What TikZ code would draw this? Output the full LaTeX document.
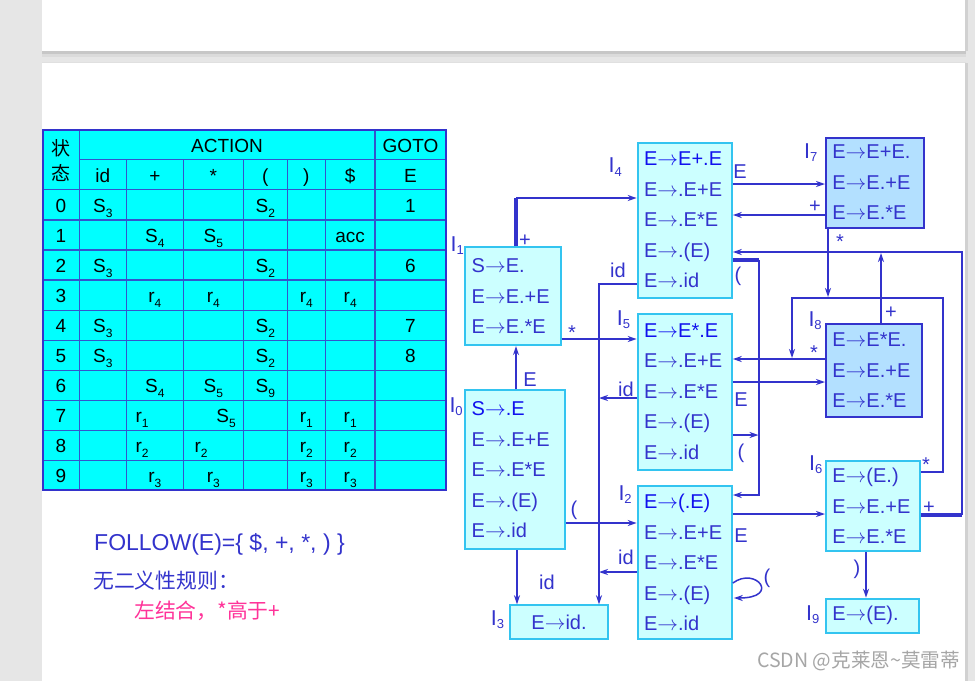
\documentclass[tikz,border=0pt]{standalone}
\usepackage{fontspec}
\setmainfont{Liberation Sans}
\newfontfamily\cjk{Noto Sans CJK SC}
\usetikzlibrary{arrows.meta}
\definecolor{kb}{HTML}{3333CC}
\definecolor{kbb}{HTML}{1111EE}
\definecolor{boxc}{HTML}{33C4F0}
\definecolor{boxf}{HTML}{CCFFFF}
\definecolor{boxfb}{HTML}{B3E0FF}
\definecolor{tcyan}{HTML}{00FFFF}
\definecolor{tline}{HTML}{3355CC}
\definecolor{mypink}{HTML}{FF3399}
\definecolor{pagebg}{HTML}{E6E6E6}
\newcommand\ar{\ensuremath{\rightarrow}}
\newcommand\sbs[1]{\raisebox{-3.5pt}{\fontsize{13}{13}\selectfont #1}}
\newcommand\tsb[1]{\raisebox{-5pt}{\fontsize{12}{12}\selectfont #1}}
\newcommand\tc[4]{\node[tcell] (#1) at (#2,#3) {#4};}
\tikzset{
  st/.style={draw=boxc, fill=boxf, line width=1.8pt, inner xsep=6.5pt, inner ysep=0pt,
    anchor=north west, align=left, text=kb, font=\fontsize{20}{30.5}\selectfont},
  stk/.style={st, draw=kb, fill=boxfb},
  arr/.style={draw=kb, line width=1.5pt, -{Stealth[length=9pt,width=6pt]}},
  thk/.style={draw=kb, line width=3.2pt},
  lab/.style={text=kb, font=\fontsize{20}{24}\selectfont, anchor=base, inner sep=0pt},
  slab/.style={text=kb, font=\fontsize{21.5}{24}\selectfont, anchor=base west, inner sep=0pt},
  tcell/.style={anchor=base, inner sep=0pt, font=\fontsize{19}{22}\selectfont, text=black},
}
\begin{document}
\begin{tikzpicture}[x=1pt,y=-1pt]
\useasboundingbox (0,0) rectangle (975,681);
% page and slides
\fill[pagebg] (0,0) rectangle (975,681);
\fill[black!22] (42,51) rectangle (966,53.5);
\fill[black!14] (42,53.5) rectangle (966,56.5);
\fill[black!18] (965,0) rectangle (967.5,51);
\fill[white] (42,0) rectangle (965,51);
\fill[black!12] (41.5,62) rectangle (966,681);
\fill[black!18] (965,63) rectangle (968,681);
\fill[white] (42,63) rectangle (965,681);

% ---------- table ----------
\fill[tcyan] (42.7,129.7) rectangle (446,490.3);
\begin{scope}[draw=tline, line width=1.1pt]
\foreach \yy in {189.3,220,250,280,310.3,340.3,370.3,400.3,430.3,460.3}
  \draw (42.7,\yy) -- (446,\yy);
\draw (79.3,159.3) -- (446,159.3);
\foreach \xx in {79.3,375}
  \draw (\xx,129.7) -- (\xx,490.3);
\foreach \xx in {126.3,183.3,243.3,287.3,325.3}
  \draw (\xx,159.3) -- (\xx,490.3);
\end{scope}
\draw[kb, line width=2pt] (42.7,129.7) rectangle (446,490.3);

\node[tcell, anchor=center, font=\cjk\fontsize{19}{22}\selectfont] (hz1) at (61,148.5) {状};
\node[tcell, anchor=center, font=\cjk\fontsize{19}{22}\selectfont] (hz2) at (61,173.5) {态};
\tc{hact}{227}{152.3}{ACTION}
\tc{hgoto}{410.5}{152.3}{GOTO}
\tc{hid}{102.8}{182.3}{id}
\tc{hpl}{154.8}{182.3}{+}
\tc{has}{213.3}{182.3}{*}
\tc{hlp}{265.3}{182.3}{(}
\tc{hrp}{306.3}{182.3}{)}
\tc{hdl}{350.2}{182.3}{\$}
\tc{hE}{410.5}{182.3}{E}
% state numbers
\foreach \n/\yy in {0/212.3,1/242.3,2/272.3,3/302.3,4/332.3,5/362.3,6/392.3,7/422.3,8/452.3,9/482.3}
  \node[tcell] (n\n) at (61,\yy) {\n};
% row 0
\tc{a0id}{102.8}{212.3}{S\tsb{3}}
\tc{a0lp}{265.3}{212.3}{S\tsb{2}}
\tc{a0g}{410.5}{212.3}{1}
% row 1
\tc{a1pl}{154.8}{242.3}{S\tsb{4}}
\tc{a1as}{213.3}{242.3}{S\tsb{5}}
\tc{a1dl}{350.2}{242.3}{acc}
% row 2
\tc{a2id}{102.8}{272.3}{S\tsb{3}}
\tc{a2lp}{265.3}{272.3}{S\tsb{2}}
\tc{a2g}{410.5}{272.3}{6}
% row 3
\tc{a3pl}{154.8}{302.3}{r\tsb{4}}
\tc{a3as}{213.3}{302.3}{r\tsb{4}}
\tc{a3rp}{306.3}{302.3}{r\tsb{4}}
\tc{a3dl}{350.2}{302.3}{r\tsb{4}}
% row 4
\tc{a4id}{102.8}{332.3}{S\tsb{3}}
\tc{a4lp}{265.3}{332.3}{S\tsb{2}}
\tc{a4g}{410.5}{332.3}{7}
% row 5
\tc{a5id}{102.8}{362.3}{S\tsb{3}}
\tc{a5lp}{265.3}{362.3}{S\tsb{2}}
\tc{a5g}{410.5}{362.3}{8}
% row 6
\tc{a6pl}{154.8}{392.3}{S\tsb{4}}
\tc{a6as}{213.3}{392.3}{S\tsb{5}}
\tc{a6lp}{265.3}{392.3}{S\tsb{9}}
% row 7
\tc{a7pl}{142}{422.3}{r\tsb{1}}
\tc{a7as}{226}{422.3}{S\tsb{5}}
\tc{a7rp}{306.3}{422.3}{r\tsb{1}}
\tc{a7dl}{350.2}{422.3}{r\tsb{1}}
% row 8
\tc{a8pl}{142}{452.3}{r\tsb{2}}
\tc{a8as}{201}{452.3}{r\tsb{2}}
\tc{a8rp}{306.3}{452.3}{r\tsb{2}}
\tc{a8dl}{350.2}{452.3}{r\tsb{2}}
% row 9
\tc{a9pl}{154.8}{482.3}{r\tsb{3}}
\tc{a9as}{213.3}{482.3}{r\tsb{3}}
\tc{a9rp}{306.3}{482.3}{r\tsb{3}}
\tc{a9dl}{350.2}{482.3}{r\tsb{3}}

% ---------- notes ----------
\node[anchor=base west, inner sep=0pt, text=kb, font=\fontsize{23}{26}\selectfont] (fol) at (94,550) {FOLLOW(E)=\{ \$, +, *, ) \}};
\node[anchor=west, inner sep=0pt, text=kb, font=\cjk\fontsize{20.8}{24}\selectfont] (amb) at (93,581) {无二义性规则：};
\node[anchor=west, inner sep=0pt, text=mypink, font=\cjk\fontsize{20.8}{24}\selectfont] (rule) at (134,611) {左结合，*高于+};
\node[anchor=west, inner sep=0pt, text=black!35, font=\cjk\fontsize{19.6}{22}\selectfont] (wm) at (757,661) {CSDN @克莱恩\textasciitilde 莫雷蒂};

% ---------- states ----------
\node[st, minimum width=99.7, minimum height=159, text width=86.7] (I0) at (464.3,389.3)
  {\textcolor{kbb}{S\ar.E}\\E\ar.E+E\\E\ar.E*E\\E\ar.(E)\\E\ar.id};
\node[st, minimum width=95.7, minimum height=98.3, text width=82.7] (I1) at (464.3,246)
  {S\ar E.\\E\ar E.+E\\E\ar E.*E};
\node[st, minimum width=94.3, minimum height=153, text width=81.3] (I2) at (636.7,485.3)
  {\textcolor{kbb}{E\ar(.E)}\\E\ar.E+E\\E\ar.E*E\\E\ar.(E)\\E\ar.id};
\node[st, minimum width=98.3, minimum height=34, text width=85.3, align=center] (I3) at (509,604.3)
  {E\ar id.};
\node[st, minimum width=94.3, minimum height=155, text width=81.3] (I4) at (636.7,141.7)
  {\textcolor{kbb}{E\ar E+.E}\\E\ar.E+E\\E\ar.E*E\\E\ar.(E)\\E\ar.id};
\node[st, minimum width=94.3, minimum height=156, text width=81.3] (I5) at (636.7,312.7)
  {\textcolor{kbb}{E\ar E*.E}\\E\ar.E+E\\E\ar.E*E\\E\ar.(E)\\E\ar.id};
\node[st, minimum width=94, minimum height=90, text width=81] (I6) at (825,460)
  {E\ar(E.)\\E\ar E.+E\\E\ar E.*E};
\node[stk, minimum width=98.3, minimum height=90, text width=85.3] (I7) at (825,136.7)
  {E\ar E+E.\\E\ar E.+E\\E\ar E.*E};
\node[stk, minimum width=95.7, minimum height=92.4, text width=82.7] (I8) at (825,323.3)
  {E\ar E*E.\\E\ar E.+E\\E\ar E.*E};
\node[st, minimum width=92.7, minimum height=34, text width=79.7] (I9) at (825,597.7)
  {E\ar(E).};

% state labels
\node[slab] (L0) at (449.3,412) {I\sbs{0}};
\node[slab] (L1) at (450.5,251) {I\sbs{1}};
\node[slab] (L2) at (618.3,500) {I\sbs{2}};
\node[slab] (L3) at (490.7,625) {I\sbs{3}};
\node[slab] (L4) at (608.5,172.7) {I\sbs{4}};
\node[slab] (L5) at (616.7,325) {I\sbs{5}};
\node[slab] (L6) at (809,470) {I\sbs{6}};
\node[slab] (L7) at (804,158) {I\sbs{7}};
\node[slab] (L8) at (808.3,326) {I\sbs{8}};
\node[slab] (L9) at (806,620) {I\sbs{9}};

% ---------- routing points ----------
\coordinate (p1) at (516,198);
\coordinate (p3) at (0,339);
\coordinate (p4) at (599,284);
\coordinate (p5) at (0,398);
\coordinate (p6) at (0,572);
\coordinate (p7) at (517,0);
\coordinate (p8) at (0,523);
\coordinate (p9) at (0,184);
\coordinate (p10) at (0,215);
\coordinate (p11) at (828,297);
\coordinate (q1) at (943,472);
\coordinate (q2) at (943,298);
\coordinate (q3) at (792,298);
\coordinate (q4) at (792,358);
\coordinate (p13) at (0,359);
\coordinate (p14) at (881,253);
\coordinate (r1) at (962,515);
\coordinate (r2) at (962,252);
\coordinate (p16) at (0,382);
\coordinate (s1) at (759,260);
\coordinate (s2) at (759,495);
\coordinate (p18) at (758.5,435);
\coordinate (p19) at (0,514);
\coordinate (p21) at (866,0);
\coordinate (lp1) at (0,583);
\coordinate (lp2) at (0,598);

% ---------- connectors ----------
\draw[arr] (I0.north -| p1) -- (I1.south -| p1);
\draw[thk] (I1.north -| p1) -- (p1);
\draw[arr] (p1) -- (p1 -| I4.west);
\draw[arr] (I1.east |- p3) -- (I5.west |- p3);
\draw[arr] (I4.west |- p4) -- (p4) -- (I3.north -| p4);
\draw[arr] (I5.west |- p5) -- (p4 |- p5);
\draw[arr] (I2.west |- p6) -- (p4 |- p6);
\draw[arr] (I0.south -| p7) -- (I3.north -| p7);
\draw[arr] (I0.east |- p8) -- (I2.west |- p8);
\draw[arr] (I4.east |- p9) -- (I7.west |- p9);
\draw[arr] (I7.west |- p10) -- (I4.east |- p10);
\draw[arr] (I7.south -| p11) -- (p11);
\draw[arr] (I6.east |- q1) -- (q1) -- (q2) -- (q3) -- (q4);
\draw[arr] (I8.west |- p13) -- (I5.east |- p13);
\draw[arr] (I8.north -| p14) -- (p14);
\draw[thk] (I6.east |- r1) -- (r1);
\draw[arr] (r1) -- (r2) -- (I4.east |- r2);
\draw[arr] (I5.east |- p16) -- (I8.west |- p16);
\draw[thk] (I4.east |- s1) -- (s1);
\draw[arr] (s1) -- (s2) -- (I2.east |- s2);
\draw[arr] (I5.east |- p18) -- (p18);
\draw[arr] (I2.east |- p19) -- (I6.west |- p19);
\draw[arr] (I2.east |- lp1) .. controls (756,566) and (781,598) .. ([xshift=1pt]I2.east |- lp2);
\draw[arr] (I6.south -| p21) -- (I9.north -| p21);

% ---------- edge labels ----------
\node[lab] (e1) at (530,386) {E};
\node[lab] (e2) at (525,246.5) {+};
\node[lab] (e3) at (572,339) {*};
\node[lab] (e4) at (618,277) {id};
\node[lab] (e5) at (626,396) {id};
\node[lab] (e6) at (626,564) {id};
\node[lab] (e7) at (547,589) {id};
\node[lab] (e8) at (574,515) {(};
\node[lab] (e9) at (740,178) {E};
\node[lab] (e10) at (815,212) {+};
\node[lab] (e11) at (840,248) {*};
\node[lab] (e12) at (814,359) {*};
\node[lab] (e13) at (891,318) {+};
\node[lab] (e14) at (926,471) {*};
\node[lab] (e15) at (929,513) {+};
\node[lab] (e16) at (741,406) {E};
\node[lab] (e17) at (738,281) {(};
\node[lab] (e18) at (741,458) {(};
\node[lab] (e19) at (741,542) {E};
\node[lab] (e20) at (767,583) {(};
\node[lab] (e21) at (857,574) {)};
\end{tikzpicture}
\end{document}
